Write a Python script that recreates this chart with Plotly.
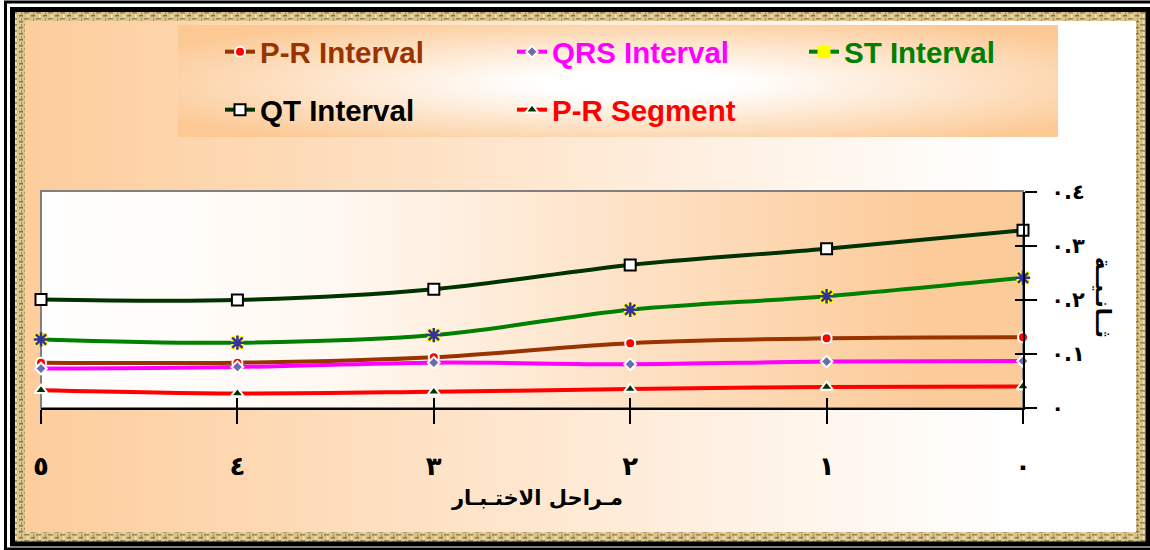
import base64
import plotly.graph_objects as go

# ---------------- data ----------------
stages = [5, 4, 3, 2, 1, 0]
stage_labels = ["٥", "٤", "٣", "٢", "١", "٠"]
pr_interval = [0.084, 0.084, 0.094, 0.120, 0.129, 0.131]
qrs_interval = [0.073, 0.076, 0.084, 0.081, 0.086, 0.087]
st_interval = [0.127, 0.121, 0.135, 0.182, 0.207, 0.241]
qt_interval = [0.201, 0.200, 0.220, 0.265, 0.295, 0.329]
pr_segment = [0.033, 0.027, 0.030, 0.035, 0.039, 0.040]
y_ticks = [0, 0.1, 0.2, 0.3, 0.4]
y_tick_labels = ["٠", "٠.١", "٠.٢", "٠.٣", "٠.٤"]
x_title = "مـراحل الاختـبـار"
y_title = "ثــانـيــة"

# ---------------- geometry ----------------
W, H = 1150, 550
PL, PR, PT, PB = 41, 1023, 192, 408
PW, PH = PR - PL, PB - PT

svg = f'''<svg xmlns="http://www.w3.org/2000/svg" width="{W}" height="{H}" viewBox="0 0 {W} {H}" preserveAspectRatio="none">
<defs>
<linearGradient id="ca" x1="0" y1="0" x2="1" y2="0">
<stop offset="0" stop-color="#FDCD9C"/><stop offset="0.88" stop-color="#FFFFFF"/></linearGradient>
<radialGradient id="lg" cx="0.52" cy="0.52" r="0.62">
<stop offset="0" stop-color="#FFFFFF"/><stop offset="0.18" stop-color="#FFFFFF"/><stop offset="1" stop-color="#FCC995"/></radialGradient>
<linearGradient id="pa" x1="0" y1="0" x2="1" y2="0">
<stop offset="0" stop-color="#FFFFFF"/><stop offset="0.3" stop-color="#FFF8F1"/><stop offset="0.9" stop-color="#FCCB9A"/></linearGradient>
<pattern id="tx" width="12" height="6" patternUnits="userSpaceOnUse">
<rect width="12" height="6" fill="#D9C48E"/>
<rect x="0" y="0" width="5" height="1.5" fill="#9C8550"/>
<rect x="7" y="3" width="4" height="1.5" fill="#8C7442"/>
<rect x="3" y="2" width="1.5" height="4" fill="#F0E2B8"/>
<rect x="9" y="0" width="1.2" height="3" fill="#B09660"/>
</pattern>
</defs>
<rect width="{W}" height="{H}" fill="#FFFFFF"/>
<rect x="5.5" y="2" width="1160" height="547" fill="none" stroke="#000" stroke-width="3"/>
<rect x="15" y="12" width="1131" height="530" fill="url(#tx)"/>
<rect x="12.5" y="9.5" width="1135.5" height="534.5" fill="none" stroke="#000" stroke-width="5"/>
<rect x="25" y="21" width="1111" height="511" fill="url(#ca)"/>
<rect x="178" y="25" width="880" height="112" fill="url(#lg)"/>
<rect x="{PL}" y="{PT-1}" width="{PW}" height="{PH+1}" fill="url(#pa)" stroke="#808080" stroke-width="2"/>
</svg>'''
bg_src = "data:image/svg+xml;base64," + base64.b64encode(svg.encode()).decode()

fig = go.Figure()

def leg_name(txt, col):
    return f"<span style='color:{col}'>{txt}</span>"

fig.add_trace(go.Scatter(
    x=stages, y=pr_interval, mode="lines+markers", name=leg_name("P-R Interval", "#993300"),
    line=dict(color="#993300", width=4, shape="spline"),
    marker=dict(symbol="circle", size=10, color="#FF0000", line=dict(color="white", width=2)),
    cliponaxis=False, legend="legend"))
fig.add_trace(go.Scatter(
    x=stages, y=qrs_interval, mode="lines+markers", name=leg_name("QRS Interval", "#FF00FF"),
    line=dict(color="#FF00FF", width=4, shape="spline"),
    marker=dict(symbol="diamond", size=9, color="#6B6BAF", line=dict(color="white", width=2)),
    cliponaxis=False, legend="legend"))
fig.add_trace(go.Scatter(
    x=stages, y=st_interval, mode="lines+markers", name=leg_name("ST Interval", "#008000"),
    line=dict(color="#008000", width=4, shape="spline"),
    marker=dict(symbol="square", size=13, color="#FFFF00", line=dict(width=0)),
    cliponaxis=False, legend="legend", legendgroup="st"))
fig.add_trace(go.Scatter(
    x=stages, y=st_interval, mode="markers", showlegend=False,
    marker=dict(symbol="asterisk-open", size=12, color="#333399", line=dict(color="#333399", width=2.5)),
    cliponaxis=False, legend="legend", legendgroup="st"))
fig.add_trace(go.Scatter(
    x=stages, y=qt_interval, mode="lines+markers", name=leg_name("QT Interval", "#000000"),
    line=dict(color="#003300", width=4, shape="spline"),
    marker=dict(symbol="square", size=11, color="white", line=dict(color="black", width=2)),
    cliponaxis=False, legend="legend2"))
fig.add_trace(go.Scatter(
    x=stages, y=pr_segment, mode="lines+markers", name=leg_name("P-R Segment", "#FF0000"),
    line=dict(color="#FF0000", width=4, shape="spline"),
    marker=dict(symbol="triangle-up", size=11, color="#003300", line=dict(color="white", width=2)),
    cliponaxis=False, legend="legend2"))
# empty helper traces so the overlay axes (inner half of the crossing tick marks) get drawn
fig.add_trace(go.Scatter(x=[], y=[], xaxis="x2", yaxis="y", showlegend=False, hoverinfo="skip"))
fig.add_trace(go.Scatter(x=[], y=[], xaxis="x", yaxis="y2", showlegend=False, hoverinfo="skip"))

legend_font = dict(family="Liberation Sans, Arial, sans-serif", size=29.5, weight="bold", color="black")
common_leg = dict(orientation="h", xref="container", yref="container", xanchor="left", yanchor="middle",
                  bgcolor="rgba(0,0,0,0)", font=legend_font, entrywidth=247, entrywidthmode="pixels",
                  itemwidth=30, tracegroupgap=0)

arabic_font = "DejaVu Sans, sans-serif"

fig.update_layout(
    width=W, height=H,
    margin=dict(l=PL, r=W - PR, t=PT, b=H - PB, pad=0),
    paper_bgcolor="white", plot_bgcolor="rgba(0,0,0,0)",
    showlegend=True,
    legend=dict(x=220 / W, y=1 - 52 / H, **common_leg),
    legend2=dict(x=220 / W, y=1 - 110 / H, **common_leg),
    xaxis=dict(range=[5, 0], tickmode="array", tickvals=stages, ticktext=stage_labels,
               ticks="outside", ticklen=14, tickwidth=2, tickcolor="black",
               showline=True, linecolor="black", linewidth=2, showgrid=False, zeroline=False,
               tickfont=dict(family=arabic_font, size=26, color="black", weight="bold"),
               ticklabelstandoff=20),
    xaxis2=dict(range=[5, 0], overlaying="x", anchor="y", side="bottom", tickmode="array", tickvals=stages,
                ticks="inside", ticklen=10, tickwidth=2, tickcolor="black",
                showticklabels=False, showline=False, showgrid=False, zeroline=False),
    yaxis=dict(range=[0, 0.4], side="right", tickmode="array", tickvals=y_ticks, ticktext=y_tick_labels,
               ticks="outside", ticklen=12, tickwidth=2, tickcolor="black",
               showline=True, linecolor="black", linewidth=2, showgrid=False, zeroline=False,
               tickfont=dict(family=arabic_font, size=21, color="black", weight="bold"),
               ticklabelstandoff=10),
    yaxis2=dict(range=[0, 0.4], overlaying="y", anchor="x", side="right", tickmode="array", tickvals=y_ticks,
                ticks="inside", ticklen=8, tickwidth=2, tickcolor="black",
                showticklabels=False, showline=False, showgrid=False, zeroline=False),
    images=[dict(source=bg_src, xref="paper", yref="paper", x=-PL / PW, y=PB / PH,
                 sizex=W / PW, sizey=H / PH, sizing="stretch", xanchor="left", yanchor="top",
                 layer="below")],
    annotations=[
        dict(text=x_title, xref="paper", yref="paper", x=(537 - PL) / PW, y=(PB - 498) / PH,
             showarrow=False, xanchor="center", yanchor="middle",
             font=dict(family=arabic_font, size=21, color="black", weight="bold")),
        dict(text=y_title, xref="paper", yref="paper", x=(1103 - PL) / PW, y=(PB - 297) / PH,
             showarrow=False, xanchor="center", yanchor="middle", textangle=90,
             font=dict(family=arabic_font, size=21, color="black", weight="bold")),
    ],
)

fig.write_html("out.html", config={"displayModeBar": False})

# remove the browser's default page margin so the figure sits at (0, 0)
with open("out.html", "r", encoding="utf-8") as f:
    html = f.read()
html = html.replace("<head>", "<head><style>html,body{margin:0;padding:0;overflow:hidden;}</style>", 1)
with open("out.html", "w", encoding="utf-8") as f:
    f.write(html)
